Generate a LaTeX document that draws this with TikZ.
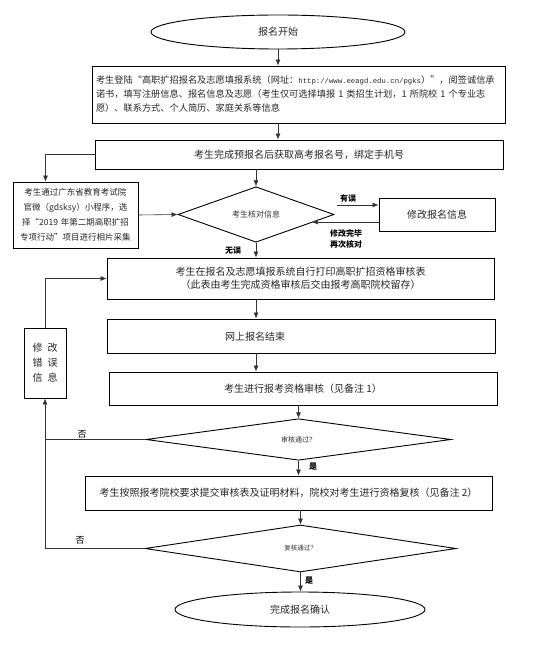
\documentclass[tikz,border=0pt]{standalone}
\usepackage{fontspec}
\setmainfont{Noto Sans CJK SC}
\newfontfamily\urlfont{Liberation Mono}
\usetikzlibrary{arrows.meta}
\usetikzlibrary{shapes.geometric}

\tikzset{
  stepbox/.style={draw,line width=.9pt,rectangle,inner sep=3pt,text=black!85,font=\fontsize{10}{13}\selectfont},
  decision/.style={draw,line width=.9pt,diamond,inner sep=0pt,text=black!80},
  terminal/.style={draw,line width=.9pt,ellipse,inner sep=0pt,text=black!85,font=\fontsize{10}{13}\selectfont},
  arr/.style={line width=.6pt,black!80,-{Latex[length=6pt,width=5pt]}},
  link/.style={line width=.6pt,black!80},
  tag/.style={font=\bfseries\fontsize{8}{11}\selectfont},
  nolabel/.style={font=\fontsize{9}{11}\selectfont},
}

\begin{document}
\begin{tikzpicture}[x=1pt,y=-1pt]
\useasboundingbox (0,0) rectangle (545,660);

% main column
\node[terminal,minimum width=254pt,minimum height=34pt] (start) at (278,32) {报名开始};
\node[stepbox,minimum width=413pt,minimum height=57pt,text width=405pt,align=left,
  font=\fontsize{9.2}{14}\selectfont] (box1) at (298.5,94.5)
  {考生登陆“高职扩招报名及志愿填报系统（网址：{\urlfont\fontsize{7.3}{14}\selectfont http://www.eeagd.edu.cn/pgks}）”，阅签诚信承\\
   诺书，填写注册信息、报名信息及志愿（考生仅可选择填报~1~类招生计划，1~所院校~1~个专业志\\
   愿）、联系方式、个人简历、家庭关系等信息};
\node[stepbox,minimum width=408pt,minimum height=29pt] (box2) at (299,154.5)
  {考生完成预报名后获取高考报名号，绑定手机号};
\node[stepbox,minimum width=125pt,minimum height=66pt,text width=119pt,align=center,
  font=\fontsize{8.5}{15}\selectfont] (photo) at (75.5,215)
  {考生通过广东省教育考试院\\官微（gdsksy）小程序，选\\择“2019 年第二期高职扩招\\专项行动”项目进行相片采集};
\node[decision,minimum width=156pt,minimum height=55pt,font=\fontsize{8}{10}\selectfont] (dia1) at (256,214.5) {考生核对信息};
\node[stepbox,minimum width=116pt,minimum height=33pt] (mod) at (437,214.5) {修改报名信息};
\node[stepbox,minimum width=387pt,minimum height=41pt,align=center] (box3) at (300.5,278.5)
  {考生在报名及志愿填报系统自行打印高职扩招资格审核表\\（此表由考生完成资格审核后交由报考高职院校留存）};
\node[stepbox,minimum width=388pt,minimum height=34pt] (box4) at (301,336) {};
\node[text=black!85,font=\fontsize{10}{13}\selectfont] (box4txt) at (255,337) {网上报名结束};
\node[stepbox,minimum width=388pt,minimum height=33pt] (box5) at (303,388.5) {考生进行报考资格审核（见备注 1）};
\node[decision,minimum width=305pt,minimum height=39pt,font=\fontsize{7}{9}\selectfont] (dia2) at (298.5,439.5) {审核通过？};
\node[stepbox,minimum width=407pt,minimum height=34pt] (box6) at (288.5,493)
  {考生按照报考院校要求提交审核表及证明材料，院校对考生进行资格复核（见备注 2）};
\node[decision,minimum width=311pt,minimum height=47pt,font=\fontsize{6.5}{8}\selectfont] (dia3) at (300.5,548.5) {复核通过？};
\node[terminal,minimum width=250pt,minimum height=35pt] (end) at (300,609.5) {完成报名确认};
\node[stepbox,minimum width=42pt,minimum height=70pt,align=center,font=\fontsize{10}{15}\selectfont] (fix) at (45,363)
  {修\enspace 改\\错\enspace 误\\信\enspace 息};

% connectors
\draw[arr] (start.south) -- (start.south |- box1.north);
\draw[arr] (start.south |- box1.south) -- (start.south |- box2.north);
\draw[arr] (box2.west) -| ([xshift=-30pt]photo.north);
\draw[arr] (photo.east) -- (dia1.west);
\draw[arr] (dia1.north |- box2.south) -- (dia1.north);
\draw[arr] ([shift={(3pt,9.5pt)}]dia1.east) -- ([yshift=9.5pt]mod.west);
\draw[arr] ([yshift=-7.5pt]mod.west) -- ([shift={(-22.6pt,-7.5pt)}]dia1.east);
\draw[arr] (dia1.south) -- (dia1.south |- box3.north);
\draw[arr] (dia1.south |- box3.south) -- (dia1.south |- box4.north);
\draw[arr] (dia1.south |- box4.south) -- (dia1.south |- box5.north);
\draw[arr] (dia2.north |- box5.south) -- (dia2.north);
\draw[arr] (dia2.south) -- (dia2.south |- box6.north);
\draw[arr] (dia3.north |- box6.south) -- (dia3.north);
\draw[arr] (dia3.south) -- (dia3.south |- end.north);
\draw[link] (dia2.west) -- (dia2.west -| fix.south);
\draw[arr] (dia3.west) -| (fix.south);
\draw[arr] (fix.north) |- (box3.west);

% labels
\node[tag] at (348,198) {有误};
\node[tag,align=center] at (346,239) {修改完毕\\再次核对};
\node[tag] at (233,250) {无误};
\node[tag] at (313,467) {是};
\node[tag] at (309,581) {是};
\node[nolabel] at (82,434) {否};
\node[nolabel] at (80,540) {否};
\end{tikzpicture}
\end{document}
